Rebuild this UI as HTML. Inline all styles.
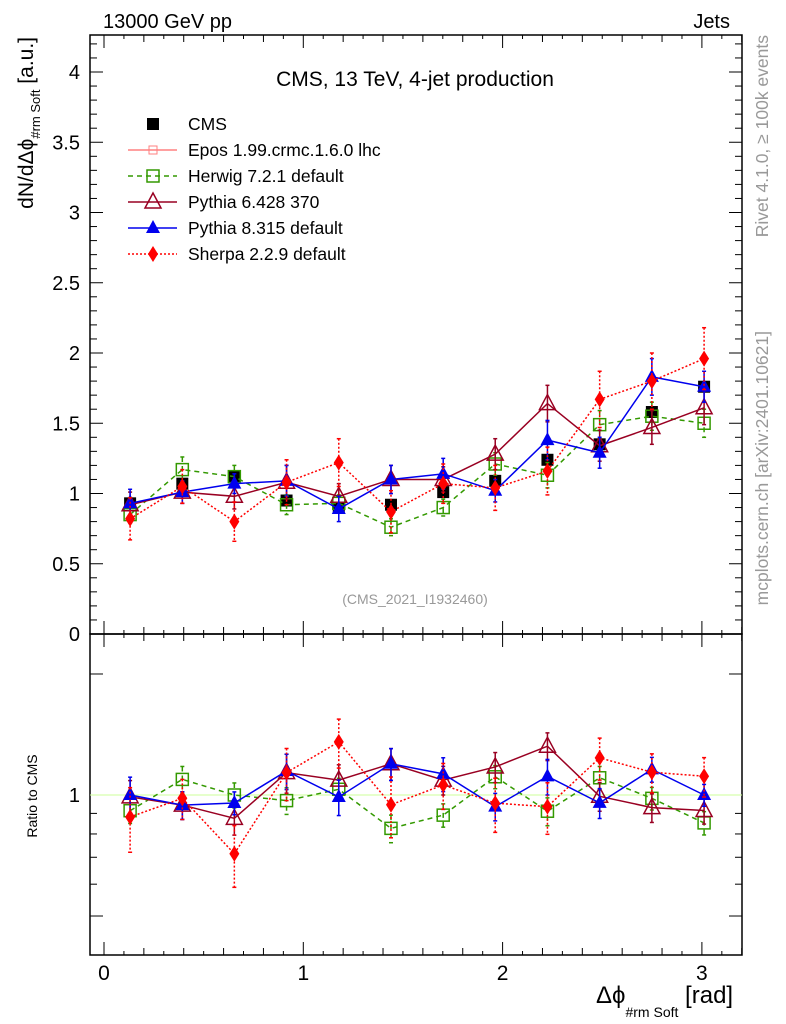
<!DOCTYPE html>
<html><head><meta charset="utf-8"><style>
body{margin:0;background:#fff}
svg{display:block;font-family:"Liberation Sans",Arial,sans-serif}
</style></head><body>
<svg id="c" width="786" height="1024" viewBox="0 0 786 1024"></svg>
<script>
const xCenters=[0.131,0.393,0.654,0.916,1.178,1.440,1.702,1.963,2.225,2.487,2.749,3.011];
const cmsVals=[0.93,1.07,1.12,0.95,0.90,0.92,1.01,1.09,1.24,1.35,1.58,1.76];
const cmsErr=[0.03,0.03,0.03,0.03,0.03,0.03,0.03,0.03,0.04,0.04,0.04,0.05];
const herwigVals=[0.85,1.17,1.12,0.92,0.93,0.76,0.90,1.21,1.13,1.49,1.55,1.50];
const herwigErr=[0.06,0.09,0.08,0.07,0.06,0.06,0.06,0.08,0.09,0.1,0.1,0.1];
const py6Vals=[0.92,1.01,0.98,1.08,0.98,1.10,1.10,1.28,1.64,1.34,1.47,1.61];
const py6Err=[0.09,0.08,0.09,0.12,0.09,0.10,0.09,0.11,0.13,0.11,0.12,0.12];
const py8Vals=[0.93,1.01,1.07,1.09,0.89,1.10,1.14,1.02,1.38,1.29,1.83,1.76];
const py8Err=[0.1,0.08,0.07,0.11,0.09,0.10,0.11,0.08,0.14,0.11,0.13,0.11];
const sherpaVals=[0.82,1.05,0.80,1.08,1.22,0.87,1.07,1.04,1.16,1.67,1.80,1.96];
const sherpaErr=[0.15,0.12,0.14,0.16,0.17,0.15,0.14,0.16,0.17,0.2,0.2,0.22];
const yTicks=["0","0.5","1","1.5","2","2.5","3","3.5","4"];
const xTicks=["0","1","2","3"];

const svg=document.getElementById('c');const NS='http://www.w3.org/2000/svg';
function el(t,a,p){const e=document.createElementNS(NS,t);for(const k in a)e.setAttribute(k,a[k]);(p||svg).appendChild(e);return e;}
const L=90,R=742,T=35,MB=634,RB=955;
const X=v=>104+v*199.3;
const Y=v=>634-v*140.5;
const YR=r=>795-Math.log10(r)*402;
let f=el('rect',{x:L,y:T,width:R-L,height:MB-T,fill:'none',stroke:'#000','stroke-width':1.5});

f=el('rect',{x:L,y:MB,width:R-L,height:RB-MB,fill:'none',stroke:'#000','stroke-width':1.5});

for(let v=0;v<=4.25;v+=0.1){const y=Y(v);if(y<T)break;const maj=Math.abs(v*2-Math.round(v*2))<1e-6;const len=maj?13:7;
el('line',{x1:L,x2:L+len,y1:y,y2:y,stroke:'#000'});el('line',{x1:R,x2:R-len,y1:y,y2:y,stroke:'#000'});}
const ytg=el('g',{});
yTicks.forEach((s,i)=>{const t=el('text',{x:80,y:Y(i*0.5)+7,'text-anchor':'end','font-size':20},ytg);t.textContent=s;});
[[T,1],[MB,1],[MB,-1],[RB,-1]].forEach(([y0,d])=>{for(let k=0;k<=32;k++){const v=k*0.1;const x=X(v);if(x>R)break;const len=k%10==0?13:(k%2==0?7:4);el('line',{x1:x,x2:x,y1:y0,y2:y0+d*len,stroke:'#000'});}});
const xtg=el('g',{});
xTicks.forEach((s,i)=>{const t=el('text',{x:X(i),y:980,'text-anchor':'middle','font-size':21},xtg);t.textContent=s;});
[2,1,0.9,0.8,0.7,0.6,0.5].forEach(r=>{const y=YR(r);const len=(r==2||r==1||r==0.5)?13:7;el('line',{x1:L,x2:L+len,y1:y,y2:y,stroke:'#000'});el('line',{x1:R,x2:R-len,y1:y,y2:y,stroke:'#000'});});
let t=el('text',{x:80,y:YR(1)+7,'text-anchor':'end','font-size':20});t.textContent='1';
el('line',{x1:L,x2:R,y1:YR(1),y2:YR(1),stroke:'#ccff99','stroke-width':1});

const series=[
 {name:'herwig',vals:herwigVals,err:herwigErr,col:'#339900',dash:'5,4',mk:'osq'},
 {name:'pythia6',vals:py6Vals,err:py6Err,col:'#990022',dash:'',mk:'otri'},
 {name:'pythia8',vals:py8Vals,err:py8Err,col:'#0000ee',dash:'',mk:'tri'},
 {name:'sherpa',vals:sherpaVals,err:sherpaErr,col:'#ff0000',dash:'2,2',mk:'dia'}];
function marker(kind,x,y,col,g){
 if(kind=='sq')return el('rect',{x:x-6,y:y-6,width:12,height:12,fill:col},g);
 if(kind=='osq')return el('rect',{x:x-6,y:y-6,width:12,height:12,fill:'none',stroke:col,'stroke-width':1.5},g);
 if(kind=='otri')return el('polygon',{points:`${x},${y-9} ${x-8},${y+6} ${x+8},${y+6}`,fill:'none',stroke:col,'stroke-width':1.5},g);
 if(kind=='tri')return el('polygon',{points:`${x},${y-8} ${x-7},${y+5} ${x+7},${y+5}`,fill:col},g);
 if(kind=='dia')return el('polygon',{points:`${x},${y-8} ${x-5},${y} ${x},${y+8} ${x+5},${y}`,fill:col},g);
}
function draw(s,Yf,vals,errs,label){
 const g=el('g',{});
 const pts=xCenters.map((x,i)=>X(x)+','+Yf(vals[i])).join(' ');
 el('polyline',{points:pts,fill:'none',stroke:s.col,'stroke-width':1.5,'stroke-dasharray':s.dash},g);
 xCenters.forEach((x,i)=>{const px=X(x);const y1=Yf(vals[i]+errs[i]),y2=Yf(Math.max(vals[i]-errs[i],0.41));
  el('line',{x1:px,x2:px,y1:y1,y2:y2,stroke:s.col,'stroke-width':1.5,'stroke-dasharray':s.dash},g);
  el('line',{x1:px-2,x2:px+2,y1:y1,y2:y1,stroke:s.col,'stroke-width':1.5},g);
  el('line',{x1:px-2,x2:px+2,y1:y2,y2:y2,stroke:s.col,'stroke-width':1.5},g);
  marker(s.mk,px,Yf(vals[i]),s.col,g);});
}
const cg=el('g',{});
xCenters.forEach((x,i)=>{const px=X(x);el('line',{x1:px,x2:px,y1:Y(cmsVals[i]+cmsErr[i]),y2:Y(cmsVals[i]-cmsErr[i]),stroke:'#000'},cg);marker('sq',px,Y(cmsVals[i]),'#000',cg);});
series.forEach(s=>draw(s,Y,s.vals,s.err,'main'));
series.forEach(s=>draw(s,YR,s.vals.map((v,i)=>v/cmsVals[i]),s.err.map((e,i)=>e/cmsVals[i]),'ratio'));

const leg=[['CMS','#000','','sq'],['Epos 1.99.crmc.1.6.0 lhc','#ff8080','','osq'],['Herwig 7.2.1 default','#339900','5,4','osq'],['Pythia 6.428 370','#990022','','otri'],['Pythia 8.315 default','#0000ee','','tri'],['Sherpa 2.2.9 default','#ff0000','2,2','dia']];
leg.forEach((l,i)=>{const y=124+i*26;const g=el('g',{});
 if(i>0)el('line',{x1:128,x2:177,y1:y,y2:y,stroke:l[1],'stroke-width':1.5,'stroke-dasharray':l[2]},g);
 if(i==1){el('rect',{x:149,y:y-4,width:8,height:8,fill:'none',stroke:l[1]},g);}else marker(l[3],153,y,l[1],g);
 const tt=el('text',{x:188,y:y+6,'font-size':17.5},g);tt.textContent=l[0];});

function txt(s,a,name){const e=el('text',a);e.textContent=s;return e;}
txt('13000 GeV pp',{x:103,y:28,'font-size':20},'beam-label');
txt('Jets',{x:730,y:28,'font-size':20,'text-anchor':'end'},'process-label');
txt('CMS, 13 TeV, 4-jet production',{x:415,y:86,'font-size':21,'text-anchor':'middle'},'plot-title');
txt('(CMS_2021_I1932460)',{x:415,y:604,'font-size':14,'text-anchor':'middle',fill:'#999'},'analysis-id');
txt('Rivet 4.1.0, ≥ 100k events',{x:0,y:0,'font-size':17.5,fill:'#999','text-anchor':'end',transform:'translate(768,35) rotate(-90)'},'rivet-label');
txt('mcplots.cern.ch [arXiv:2401.10621]',{x:0,y:0,'font-size':17.5,fill:'#999','text-anchor':'end',transform:'translate(768,331) rotate(-90)'},'mcplots-label');
const yl=el('text',{'font-size':21,'text-anchor':'end',transform:'translate(33,37) rotate(-90)'});
yl.innerHTML='dN/dΔϕ<tspan font-size="13" dy="7">#rm Soft</tspan><tspan dy="-7" font-size="21">  [a.u.]</tspan>';
txt('Ratio to CMS',{transform:'translate(37,796) rotate(-90)','font-size':14,'text-anchor':'middle'},'ratio-axis-title');
const xl=el('text',{x:596,y:1003,'font-size':24});
xl.innerHTML='Δϕ<tspan font-size="14" dy="14">#rm Soft</tspan><tspan dy="-14" font-size="24"> [rad]</tspan>';
</script>
</body></html>
